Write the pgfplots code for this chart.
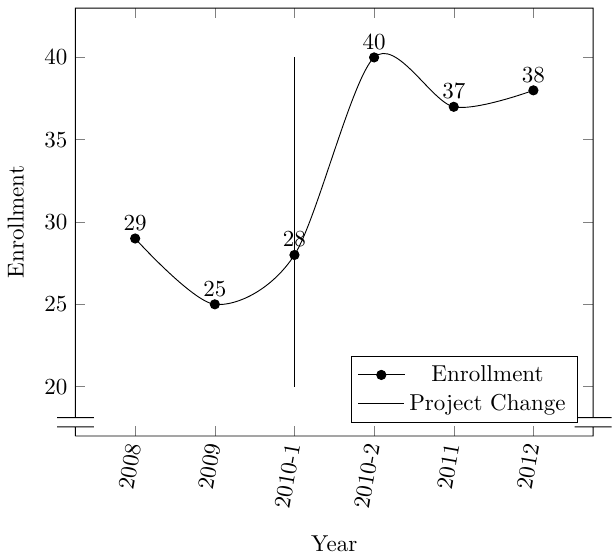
\documentclass[border=0pt]{standalone}
\usepackage{pgfplots}
\pgfplotsset{compat=1.18}
\begin{document}
\begin{tikzpicture}
\begin{axis}[
  scale only axis,
  width=225pt, height=186pt,
  xmin=-0.75, xmax=5.75,
  ymin=17, ymax=43,
  axis y discontinuity=parallel,
  xtick={0,1,2,3,4,5},
  xticklabels={2008,2009,2010-1,2010-2,2011,2012},
  x tick label style={rotate=80, anchor=east},
  ytick={20,25,30,35,40},
  xlabel={Year}, ylabel={Enrollment},
  xlabel style={yshift=-4pt},
  ylabel style={yshift=2pt},
  legend pos=south east,
  legend cell align=center,
  legend image code/.code={\draw[mark repeat=2,mark phase=2,#1] plot coordinates {(0cm,0cm)(0.35cm,0cm)(0.7cm,0cm)};},
]
\addplot[black, smooth, mark=*, nodes near coords, every node near coord/.style={font=\normalsize, anchor=south}] coordinates {
  (0,29) (1,25) (2,28) (3,40) (4,37) (5,38)
};
\addlegendentry{Enrollment}
\addplot[black] coordinates {(2,20) (2,40)};
\addlegendentry{Project Change}
\end{axis}
\path (current axis.north) ++(0,3.5pt) coordinate (topspace);
\end{tikzpicture}
\end{document}
